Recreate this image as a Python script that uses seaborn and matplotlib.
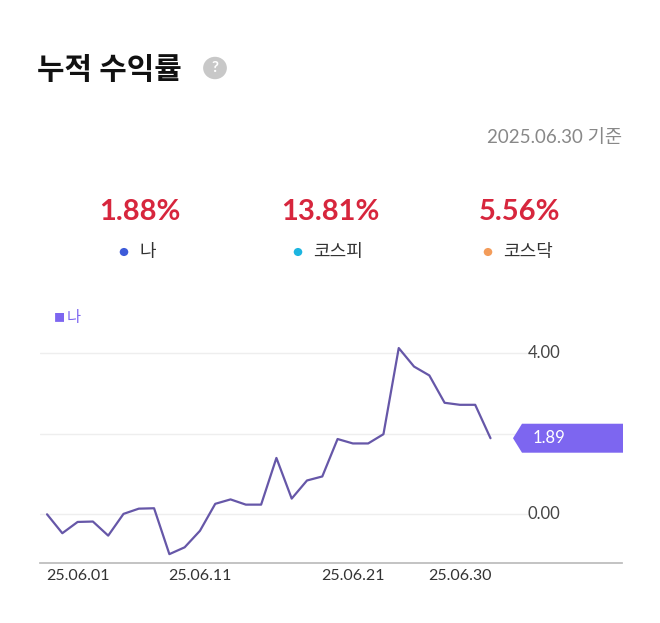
import matplotlib
matplotlib.use("Agg")
import matplotlib.pyplot as plt
import seaborn as sns
import pandas as pd
from matplotlib.patches import Polygon, Circle
import matplotlib.transforms as mtrans

returns = [0, -0.47, -0.19, -0.18, -0.53, 0.01, 0.14, 0.15, -0.99, -0.82,
           -0.41, 0.26, 0.37, 0.24, 0.24, 1.40, 0.39, 0.84, 0.94, 1.87,
           1.76, 1.76, 1.99, 4.13, 3.67, 3.45, 2.77, 2.72, 2.72, 1.89]
tick_pos = [2, 10, 20, 27]
tick_labels = ["25.06.01", "25.06.11", "25.06.21", "25.06.30"]
stat_values = ["1.88%", "13.81%", "5.56%"]
stat_names = ["나", "코스피", "코스닥"]
stat_colors = ["#3d5bd9", "#1cb5e0", "#f39c5a"]

sns.set_theme(style="white")
plt.rcParams['font.family'] = ['Lato', 'Noto Sans CJK KR', 'DejaVu Sans']

W, H = 660, 623
fig = plt.figure(figsize=(6.6, 6.23), dpi=100)
def fx(x): return x / W
def fy(y): return 1 - y / H

ax = fig.add_axes([fx(40), fy(563), fx(622) - fx(40), fy(340) - fy(563)])
df = pd.DataFrame({"i": range(len(returns)), "v": returns})
sns.lineplot(data=df, x="i", y="v", ax=ax, color="#6657a8", linewidth=1.6)
ax.set_xlim(-0.46, 37.6)
ax.set_ylim(-1.21, 4.33)
ax.set_xlabel(""); ax.set_ylabel("")
ax.set_yticks([])
ax.set_xticks(tick_pos)
ax.set_xticklabels(tick_labels, fontsize=11.5, color="#333333")
ax.tick_params(axis="x", length=0, pad=4)
for s in ["top", "right", "left"]:
    ax.spines[s].set_visible(False)
ax.spines["bottom"].set_color("#bbbbbb")
for g in [0, 2, 4]:
    ax.plot([-0.46, 31.5], [g, g], color="#eeeeee", lw=1, zorder=0)
tr = mtrans.blended_transform_factory(fig.transFigure, ax.transData)
for g, lab in [(0, "0.00"), (4, "4.00")]:
    ax.text(fx(528), g, lab, transform=tr, fontsize=12, color="#444444", va="center")
yv = returns[-1]
h = 0.36
poly = Polygon([(fx(513), yv), (fx(522), yv + h), (fx(623), yv + h), (fx(623), yv - h), (fx(522), yv - h)],
               closed=True, transform=tr, facecolor="#7d66f0", edgecolor="none", clip_on=False)
ax.add_patch(poly)
ax.text(fx(533), yv, f"{yv:.2f}", transform=tr, fontsize=12, color="white", va="center")

fig.text(fx(37), fy(70), "누적 수익률", fontsize=21.5, fontweight="bold", color="#111111", va="center")
fig.patches.append(Circle((fx(215), fy(68)), 0.018, transform=fig.transFigure, facecolor="#c8c8c8", edgecolor="none"))
fig.text(fx(215), fy(68), "?", fontsize=11, fontweight="bold", color="white", ha="center", va="center")
fig.text(fx(622), fy(137), "2025.06.30 기준", fontsize=13.5, color="#888888", ha="right", va="center")
for cx, val, name, col in zip([140, 330, 520], stat_values, stat_names, stat_colors):
    fig.text(fx(cx), fy(212), val, fontsize=21, fontweight="bold", color="#d7263d", ha="center", va="center")
    fig.text(fx(cx + 8), fy(252), name, fontsize=13, color="#333333", ha="center", va="center")
    off = 8 * len(name) + 16
    fig.patches.append(Circle((fx(cx + 8 - off), fy(252)), 0.0065, transform=fig.transFigure,
                              facecolor=col, edgecolor="none"))
fig.text(fx(54), fy(318), "■", fontsize=8, color="#7d66f0", va="center")
fig.text(fx(67), fy(318), "나", fontsize=11, color="#7d66f0", va="center")

fig.savefig("out.png", dpi=100, facecolor="white")
